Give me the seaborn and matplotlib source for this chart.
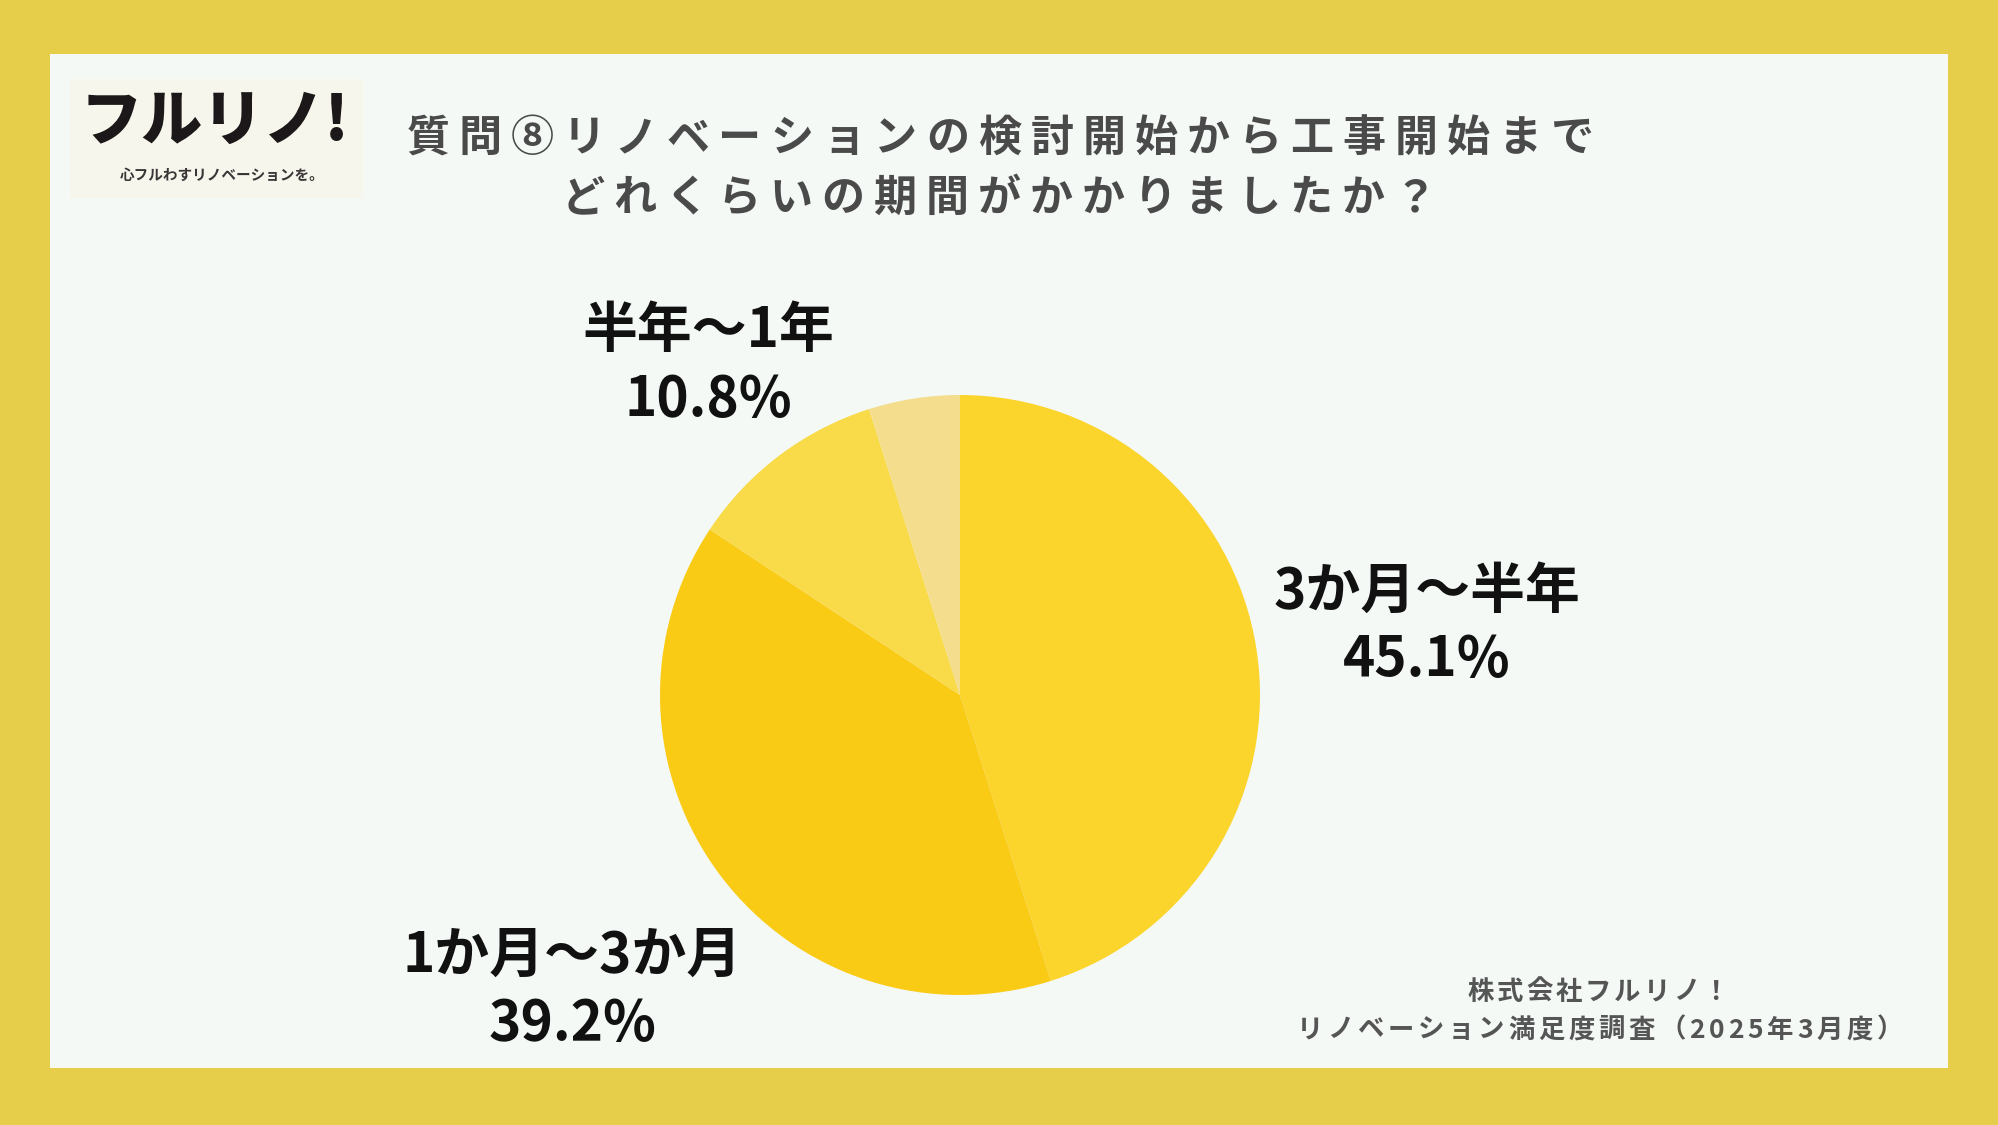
import matplotlib
matplotlib.use("Agg")
import matplotlib.pyplot as plt
import seaborn as sns
from matplotlib.patches import Rectangle

sns.set_theme(style="white")
plt.rcParams['font.family'] = ['Noto Sans CJK JP', 'DejaVu Sans']

# data
categories = ["3か月〜半年", "1か月〜3か月", "半年〜1年", "1年以上"]
shares = [45.1, 39.2, 10.8, 4.9]
show_label = [True, True, True, False]
colors = ["#FBD52C", "#FACB15", "#F9DA48", "#F5DD8E"]

title_lines = ["質問⑧リノベーションの検討開始から工事開始まで",
               "どれくらいの期間がかかりましたか？"]
source_lines = ["株式会社フルリノ！", "リノベーション満足度調査（2025年3月度）"]

W, H = 1999, 1125
fig = plt.figure(figsize=(W / 100, H / 100), dpi=100)
fig.patch.set_facecolor("#E6CE4A")
fig.patches.append(Rectangle((50 / W, 1 - 1068 / H), 1898 / W, 1014 / H,
                             transform=fig.transFigure, facecolor="#F4F9F6",
                             edgecolor="none", zorder=-2))

# logo box
fig.patches.append(Rectangle((70 / W, 1 - 198 / H), 293 / W, 119 / H,
                             transform=fig.transFigure, facecolor="#F7F6EC",
                             edgecolor="none", zorder=-1))
fig.text(215 / W, 1 - 122 / H, "フルリノ!", ha="center", va="center",
         fontsize=44, fontweight="heavy", color="#1C1718", style="italic")
fig.text(222 / W, 1 - 175 / H, "心フルわすリノベーションを。", ha="center", va="center",
         fontsize=10.5, fontweight="bold", color="#3A3536")

renderer = fig.canvas.get_renderer()


def tracked(text, cx, cy, track, **kw):
    # letter-spaced text, centred on cx (pixels from left), cy (pixels from top)
    objs = [fig.text(0, 1 - cy / H, ch, ha="left", va="center", **kw) for ch in text]
    widths = [o.get_window_extent(renderer).width for o in objs]
    total = sum(widths) + track * (len(objs) - 1)
    x = cx - total / 2
    for o, w in zip(objs, widths):
        o.set_x(x / W)
        x += w + track


tracked(title_lines[0], 1000, 138, 9, fontsize=31, fontweight="bold", color="#4A4A4A")
tracked(title_lines[1], 999, 198, 9, fontsize=31, fontweight="bold", color="#4A4A4A")

# pie
cx, cy, r = 960, 695, 300
ax = fig.add_axes([(cx - r) / W, 1 - (cy + r) / H, 2 * r / W, 2 * r / H])
ax.pie(shares, colors=colors, startangle=90, counterclock=False,
       wedgeprops=dict(linewidth=0))
ax.set_aspect("equal")
ax.set_xlim(-1, 1)
ax.set_ylim(-1, 1)
ax.axis("off")

label_pos = [(1427, 591, 660), (572, 955, 1024), (708, 330, 399)]
for cat, val, show, pos in zip(categories, shares, show_label, label_pos + [None]):
    if not show:
        continue
    x, y1, y2 = pos
    fig.text(x / W, 1 - y1 / H, cat, ha="center", va="center",
             fontsize=39.5, fontweight="bold", color="#111111")
    fig.text(x / W, 1 - y2 / H, f"{val}%", ha="center", va="center",
             fontsize=39.5, fontweight="bold", color="#111111")

tracked(source_lines[0], 1598, 992, 3, fontsize=19, fontweight="bold", color="#555555")
tracked(source_lines[1], 1600, 1030, 3.8, fontsize=19, fontweight="bold", color="#555555")

fig.savefig("out.png", dpi=100, facecolor=fig.get_facecolor())
